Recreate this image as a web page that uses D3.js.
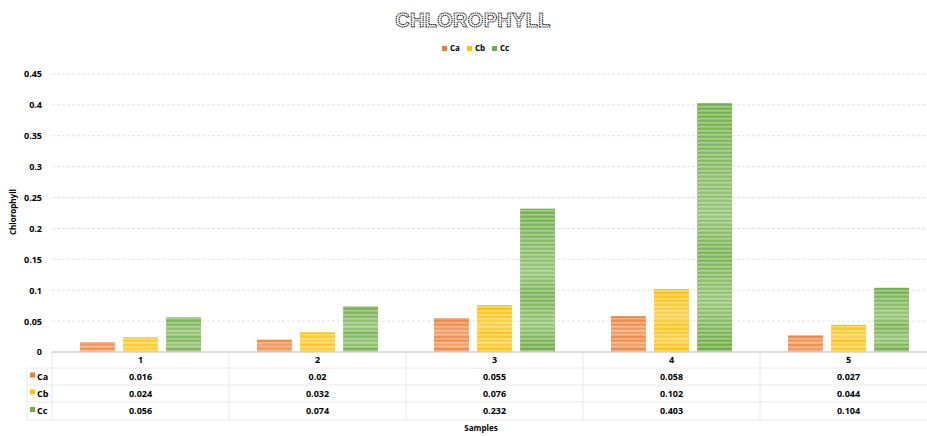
<!DOCTYPE html>
<html>
<head>
<meta charset="utf-8">
<script src="https://cdn.jsdelivr.net/npm/d3@7"></script>
<style>
  body { margin: 0; background: #fff; }
  text { font-family: "Open Sans", "Liberation Sans", sans-serif; }
</style>
</head>
<body>
<script>
// Data
var samples = ["1", "2", "3", "4", "5"];
var seriesNames = ["Ca", "Cb", "Cc"];
var caValues = [0.016, 0.02, 0.055, 0.058, 0.027];
var cbValues = [0.024, 0.032, 0.076, 0.102, 0.044];
var ccValues = [0.056, 0.074, 0.232, 0.403, 0.104];
var yTicks = [0, 0.05, 0.1, 0.15, 0.2, 0.25, 0.3, 0.35, 0.4, 0.45];
var colors = ["#ED7D31", "#FFC000", "#70AD47"];

var series = [caValues, cbValues, ccValues];

var width = 927, height = 436;
var plotLeft = 52, plotRight = 937, plotTop = 74, plotBottom = 352;

var svg = d3.select("body").append("svg")
    .attr("width", width).attr("height", height);

// stripe patterns for the bars
var defs = svg.append("defs");
colors.forEach(function(c, i) {
    var p = defs.append("pattern")
        .attr("id", "stripe" + i)
        .attr("patternUnits", "userSpaceOnUse")
        .attr("width", 8).attr("height", 4);
    p.append("rect").attr("width", 8).attr("height", 4).attr("fill", c);
    p.append("rect").attr("y", 2).attr("width", 8).attr("height", 1.5)
        .attr("fill", "#fff").attr("opacity", 0.35);
    var g = defs.append("linearGradient")
        .attr("id", "shade" + i)
        .attr("x1", 0).attr("x2", 0).attr("y1", 0).attr("y2", 1);
    g.append("stop").attr("offset", "0%").attr("stop-color", "#fff").attr("stop-opacity", 0.05);
    g.append("stop").attr("offset", "45%").attr("stop-color", "#fff").attr("stop-opacity", 0.3);
    g.append("stop").attr("offset", "60%").attr("stop-color", "#fff").attr("stop-opacity", 0.1);
    g.append("stop").attr("offset", "80%").attr("stop-color", "#fff").attr("stop-opacity", 0.3);
    g.append("stop").attr("offset", "100%").attr("stop-color", "#fff").attr("stop-opacity", 0.0);
});

// Scales
var y = d3.scaleLinear().domain([0, 0.45]).range([plotBottom, plotTop]);
var x0 = d3.scaleBand().domain(samples).range([plotLeft, plotRight]);
var x1 = d3.scaleBand().domain(seriesNames).range([28, 149]).paddingInner(0.19);

// gridlines
svg.append("g").selectAll("line")
    .data(yTicks.slice(1))
    .enter().append("line")
    .attr("x1", plotLeft).attr("x2", plotRight)
    .attr("y1", function(d){ return y(d); })
    .attr("y2", function(d){ return y(d); })
    .attr("stroke", "#d9d9d9")
    .attr("stroke-dasharray", "3,2")
    .attr("stroke-width", 0.8);

// y axis labels
var yAxis = d3.axisLeft(y).tickValues(yTicks).tickSize(0).tickPadding(10)
    .tickFormat(function(d){ return d === 0 ? "0" : String(+d.toFixed(2)); });
var yg = svg.append("g").attr("transform", "translate(" + plotLeft + ",0)").call(yAxis);
yg.select(".domain").remove();
yg.selectAll("text").attr("font-size", 9).attr("font-weight", "bold").attr("fill", "#000")
    .style("font-family", "'Open Sans', sans-serif");

// bars
var groups = svg.append("g").selectAll("g")
    .data(samples)
    .enter().append("g")
    .attr("transform", function(d){ return "translate(" + x0(d) + ",0)"; });

groups.each(function(s, si) {
    var g = d3.select(this);
    seriesNames.forEach(function(name, k) {
        var v = series[k][si];
        g.append("rect")
            .attr("x", x1(name)).attr("width", x1.bandwidth())
            .attr("y", y(v)).attr("height", y(0) - y(v))
            .attr("fill", "url(#stripe" + k + ")");
        g.append("rect")
            .attr("x", x1(name)).attr("width", x1.bandwidth())
            .attr("y", y(v)).attr("height", y(0) - y(v))
            .attr("fill", "url(#shade" + k + ")");
    });
});

// data table
var rowH = [352, 368, 385, 402, 420];
var tableLeft = 27;
var t = svg.append("g");
// horizontal lines
t.selectAll("line.h").data(rowH.slice(1)).enter().append("line")
    .attr("x1", tableLeft).attr("x2", plotRight)
    .attr("y1", function(d){ return d; }).attr("y2", function(d){ return d; })
    .attr("stroke", "#e2e2e2").attr("stroke-width", 0.8);
// vertical lines
var vx = samples.map(function(d){ return x0(d); }).concat([plotRight]);
t.selectAll("line.v").data(vx).enter().append("line")
    .attr("x1", function(d){ return d; }).attr("x2", function(d){ return d; })
    .attr("y1", rowH[0]).attr("y2", rowH[4])
    .attr("stroke", "#e2e2e2").attr("stroke-width", 0.8);
t.append("line").attr("x1", tableLeft).attr("x2", tableLeft)
    .attr("y1", rowH[1]).attr("y2", rowH[4])
    .attr("stroke", "#e2e2e2").attr("stroke-width", 0.8);

// axis line
svg.append("line").attr("x1", plotLeft).attr("x2", plotRight)
    .attr("y1", y(0)).attr("y2", y(0))
    .attr("stroke", "#d0d0d0").attr("stroke-width", 1.5);

// category labels
t.selectAll("text.cat").data(samples).enter().append("text")
    .attr("x", function(d){ return x0(d) + x0.bandwidth() / 2; })
    .attr("y", (rowH[0] + rowH[1]) / 2 + 3)
    .attr("text-anchor", "middle").attr("font-size", 9).attr("font-weight", "bold")
    .text(function(d){ return d; });

// value rows
seriesNames.forEach(function(name, k) {
    var yMid = (rowH[k + 1] + rowH[k + 2]) / 2 + 3;
    t.append("rect").attr("x", 30).attr("y", yMid - 7).attr("width", 5).attr("height", 5)
        .attr("fill", colors[k]);
    t.append("text").attr("x", 37).attr("y", yMid).attr("font-size", 9).attr("font-weight", "bold")
        .text(name);
    t.selectAll("text.v" + k).data(series[k]).enter().append("text")
        .attr("x", function(d, i){ return x0(samples[i]) + x0.bandwidth() / 2; })
        .attr("y", yMid)
        .attr("text-anchor", "middle").attr("font-size", 9).attr("font-weight", "bold")
        .text(function(d){ return String(d); });
});

// axis titles
svg.append("text").attr("x", 481).attr("y", 431).attr("text-anchor", "middle")
    .attr("font-size", 8).attr("font-weight", "bold").text("Samples");
svg.append("text").attr("transform", "translate(16,212) rotate(-90)")
    .attr("text-anchor", "middle").attr("font-size", 8).attr("font-weight", "bold").text("Chlorophyll");

// title (outlined, dotted)
svg.append("text").attr("x", 473).attr("y", 27).attr("text-anchor", "middle")
    .attr("font-size", 20).attr("font-weight", "bold").attr("letter-spacing", 0.3)
    .attr("fill", "#fff").attr("stroke", "#222").attr("stroke-width", 1.2)
    .attr("stroke-dasharray", "1.2,0.7")
    .style("font-family", "'Liberation Sans', sans-serif")
    .text("CHLOROPHYLL");

// legend
var legend = svg.append("g").attr("transform", "translate(442,50)");
seriesNames.forEach(function(name, k) {
    var lg = legend.append("g").attr("transform", "translate(" + (k * 25) + ",0)");
    lg.append("rect").attr("x", 0).attr("y", -4).attr("width", 5).attr("height", 5).attr("fill", colors[k]);
    lg.append("text").attr("x", 8).attr("y", 1).attr("font-size", 8).attr("font-weight", "bold").text(name);
});
</script>
</body>
</html>
